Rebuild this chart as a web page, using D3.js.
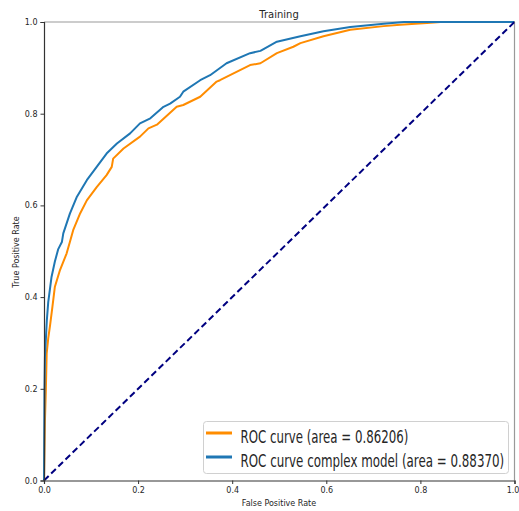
<!DOCTYPE html>
<html><head><meta charset="utf-8">
<script src="https://cdn.jsdelivr.net/npm/d3@7"></script>
<style>body{margin:0;background:#fff}svg{display:block}text{font-family:"DejaVu Sans",sans-serif;fill:#262626}</style>
</head><body>
<svg id="c" width="519" height="511"></svg>
<script>
const title = "Training";
const xLabel = "False Positive Rate";
const yLabel = "True Positive Rate";
const ticks = [0, 0.2, 0.4, 0.6, 0.8, 1.0];
const seriesNames = ["ROC curve (area = 0.86206)", "ROC curve complex model (area = 0.88370)"];
const seriesColors = ["#ff8c00", "#1f77b4"];
const fprOrange = [0,0.002,0.004,0.0057,0.009,0.0128,0.018,0.023,0.034,0.048,0.055,0.062,0.077,0.091,0.112,0.133,0.144,0.147,0.169,0.204,0.222,0.240,0.282,0.296,0.332,0.367,0.374,0.438,0.460,0.495,0.530,0.545,0.594,0.651,0.722,0.757,0.814,0.843,1];
const tprOrange = [0,0.13,0.2,0.277,0.31,0.338,0.38,0.422,0.459,0.495,0.52,0.546,0.583,0.611,0.640,0.666,0.684,0.702,0.724,0.750,0.768,0.776,0.815,0.819,0.837,0.870,0.873,0.906,0.910,0.932,0.946,0.954,0.969,0.983,0.991,0.994,0.998,1.0,1];
const fprBlue = [0,0.001,0.002,0.006,0.009,0.016,0.023,0.030,0.038,0.041,0.055,0.070,0.091,0.112,0.133,0.155,0.183,0.204,0.226,0.254,0.268,0.289,0.296,0.332,0.353,0.388,0.438,0.460,0.495,0.545,0.594,0.651,0.722,0.765,1];
const tprBlue = [0,0.2,0.269,0.349,0.389,0.444,0.477,0.504,0.520,0.539,0.582,0.619,0.655,0.684,0.713,0.735,0.757,0.779,0.790,0.815,0.822,0.837,0.848,0.873,0.884,0.910,0.932,0.937,0.957,0.969,0.980,0.989,0.996,1.0,1];
const diagonal = [0, 1];

const svg = d3.select("#c");
const x = d3.scaleLinear().domain([0,1]).range([44, 514.5]);
const y = d3.scaleLinear().domain([0,1]).range([480.5, 22]);

svg.append("line").attr("x1",x(0)).attr("x2",x(1)).attr("y1",y(1)).attr("y2",y(1)).attr("stroke","#999").attr("stroke-width",1.2);
svg.append("line").attr("x1",x(1)).attr("x2",x(1)).attr("y1",y(0)).attr("y2",y(1)).attr("stroke","#999").attr("stroke-width",1.2);

const line = d3.line().x(d=>x(d[0])).y(d=>y(d[1]));
svg.append("path").datum(d3.zip(fprOrange,tprOrange)).attr("d",line).attr("fill","none").attr("stroke",seriesColors[0]).attr("stroke-width",2).attr("stroke-linejoin","round");
svg.append("path").datum(d3.zip(fprBlue,tprBlue)).attr("d",line).attr("fill","none").attr("stroke",seriesColors[1]).attr("stroke-width",2).attr("stroke-linejoin","round");
svg.append("path").datum(d3.zip(diagonal,diagonal)).attr("d",line).attr("fill","none").attr("stroke","#000080").attr("stroke-width",2).attr("stroke-dasharray","6.5,3.5");

const xa = svg.append("g").attr("transform",`translate(0,${y(0)})`)
  .call(d3.axisBottom(x).tickValues(ticks).tickFormat(d3.format(".1f")).tickSize(3.5).tickPadding(3));
const ya = svg.append("g").attr("transform",`translate(${x(0)},0)`)
  .call(d3.axisLeft(y).tickValues(ticks).tickFormat(d3.format(".1f")).tickSize(3.5).tickPadding(3));
[xa,ya].forEach(a=>{
  a.select(".domain").attr("stroke","#333").attr("stroke-width",1.2);
  a.selectAll(".tick line").attr("stroke","#333");
  a.selectAll(".tick text").attr("font-size",8).attr("fill","#333").attr("font-family","DejaVu Sans");
});
xa.selectAll(".tick text").filter(d=>d===1).attr("text-anchor","end").attr("dx","0.55em");

svg.append("text").attr("x",279).attr("y",18).attr("text-anchor","middle").attr("font-size",10).text(title);
svg.append("text").attr("x",279).attr("y",506).attr("text-anchor","middle").attr("font-size",8).text(xLabel);
svg.append("text").attr("transform","translate(19,252) rotate(-90)").attr("text-anchor","middle").attr("font-size",8).text(yLabel);

const lg = svg.append("g");
lg.append("rect").attr("x",203.5).attr("y",421.5).attr("width",305).attr("height",52).attr("rx",3)
  .attr("fill","#fff").attr("fill-opacity",0.85).attr("stroke","#d0d0d0");
const rowsY = [433, 457];
const textW = [168, 264];
seriesNames.forEach((n,i)=>{
  lg.append("line").attr("x1",206).attr("x2",232).attr("y1",rowsY[i]).attr("y2",rowsY[i]).attr("stroke",seriesColors[i]).attr("stroke-width",3);
  const t = lg.append("text").attr("x",0).attr("y",0).attr("font-size",17.5).text(n);
  const w = t.node().getComputedTextLength();
  t.attr("transform",`translate(240.5,${rowsY[i]+9.5}) scale(${textW[i]/w},1)`);
});
</script>
</body></html>
